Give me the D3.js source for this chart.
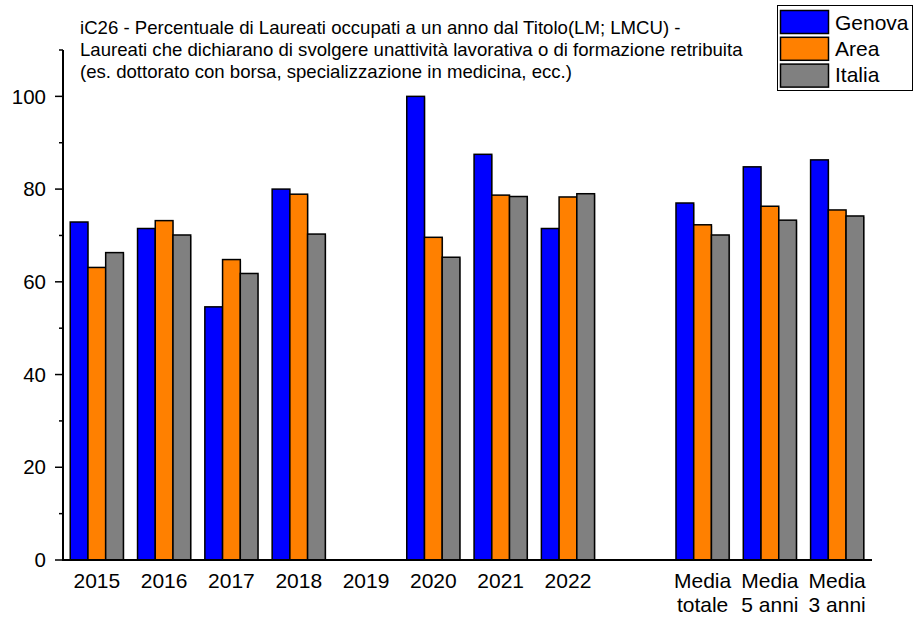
<!DOCTYPE html>
<html>
<head>
<meta charset="utf-8">
<script src="https://cdn.jsdelivr.net/npm/d3@7"></script>
<style>
  body { margin: 0; background: #fff; }
  svg { display: block; font-family: "Liberation Sans", Arial, sans-serif; }
</style>
</head>
<body>
<svg id="chart" width="914" height="619"></svg>
<script>
const categories = ['2015', '2016', '2017', '2018', '2019', '2020', '2021', '2022', '', 'Media\ntotale', 'Media\n5 anni', 'Media\n3 anni'];
const seriesNames = ['Genova', 'Area', 'Italia'];
const colors = ['#0000ff', '#ff8000', '#808080'];

const genova = [72.9, 71.5, 54.6, 80.0, null, 100.0, 87.5, 71.5, null, 77.0, 84.8, 86.3];
const area   = [63.1, 73.2, 64.8, 78.9, null, 69.6, 78.7, 78.3, null, 72.3, 76.3, 75.5];
const italia = [66.3, 70.1, 61.8, 70.3, null, 65.3, 78.4, 79.0, null, 70.1, 73.3, 74.2];

const titleLines = [
  'iC26 - Percentuale di Laureati occupati a un anno dal Titolo(LM; LMCU) -',
  'Laureati che dichiarano di svolgere unattività lavorativa o di formazione retribuita',
  '(es. dottorato con borsa, specializzazione in medicina, ecc.)'
];

const svg = d3.select('#chart');

const x = d3.scaleBand()
    .domain(d3.range(categories.length))
    .range([63.5, 870.5])
    .paddingInner(0.21)
    .paddingOuter(0.1);

const xs = d3.scaleBand()
    .domain(seriesNames)
    .range([0, x.bandwidth()]);

const y = d3.scaleLinear()
    .domain([0, 110])
    .range([560, 50]);

const series = [genova, area, italia];

// bars (with a faint shadow like the original)
series.forEach((vals, si) => {
  const g = svg.append('g');
  vals.forEach((v, i) => {
    if (v === null) return;
    const bx = x(i) + xs(seriesNames[si]);
    g.append('rect')
        .attr('x', bx + 1)
        .attr('y', y(v) + 1)
        .attr('width', xs.bandwidth())
        .attr('height', y(0) - y(v))
        .attr('fill', '#c8c8c8');
    g.append('rect')
        .attr('x', bx)
        .attr('y', y(v))
        .attr('width', xs.bandwidth())
        .attr('height', y(0) - y(v))
        .attr('fill', colors[si])
        .attr('stroke', '#000')
        .attr('stroke-width', 1.5);
  });
});

// y axis
const yAxis = svg.append('g')
    .attr('transform', 'translate(63,0)');

yAxis.append('line')
    .attr('x1', 0).attr('x2', 0)
    .attr('y1', y(110)).attr('y2', y(0))
    .attr('stroke', '#000').attr('stroke-width', 2);

d3.range(0, 111, 10).forEach(t => {
  const major = t % 20 === 0;
  yAxis.append('line')
      .attr('x1', major ? -8 : -4).attr('x2', 0)
      .attr('y1', y(t)).attr('y2', y(t))
      .attr('stroke', '#000').attr('stroke-width', 1.5);
  if (major) {
    yAxis.append('text')
        .attr('x', -17)
        .attr('y', y(t))
        .attr('dy', '0.35em')
        .attr('text-anchor', 'end')
        .attr('font-size', 20.5)
        .text(t);
  }
});

// x axis
svg.append('line')
    .attr('x1', 62).attr('x2', 872)
    .attr('y1', y(0)).attr('y2', y(0))
    .attr('stroke', '#000').attr('stroke-width', 2);

categories.forEach((c, i) => {
  const cx = x(i) + x.bandwidth() / 2;
  const t = svg.append('text')
      .attr('x', cx)
      .attr('y', 588)
      .attr('text-anchor', 'middle')
      .attr('font-size', 21);
  c.split('\n').forEach((line, li) => {
    t.append('tspan')
        .attr('x', cx)
        .attr('dy', li === 0 ? 0 : 24)
        .text(line);
  });
});

// title
titleLines.forEach((line, i) => {
  svg.append('text')
      .attr('x', 80)
      .attr('y', 34 + i * 22)
      .attr('font-size', 18.6)
      .text(line);
});

// legend
const legend = svg.append('g');
legend.append('rect')
    .attr('x', 777.5).attr('y', 5.5)
    .attr('width', 135).attr('height', 85)
    .attr('fill', '#fff').attr('stroke', '#000').attr('stroke-width', 1);

seriesNames.forEach((name, i) => {
  legend.append('rect')
      .attr('x', 780.5).attr('y', 10.5 + i * 26.8)
      .attr('width', 48).attr('height', 23)
      .attr('fill', colors[i])
      .attr('stroke', '#000').attr('stroke-width', 1.5);
  legend.append('text')
      .attr('x', 835).attr('y', 29.5 + i * 26.2)
      .attr('font-size', 21)
      .text(name);
});
</script>
</body>
</html>
